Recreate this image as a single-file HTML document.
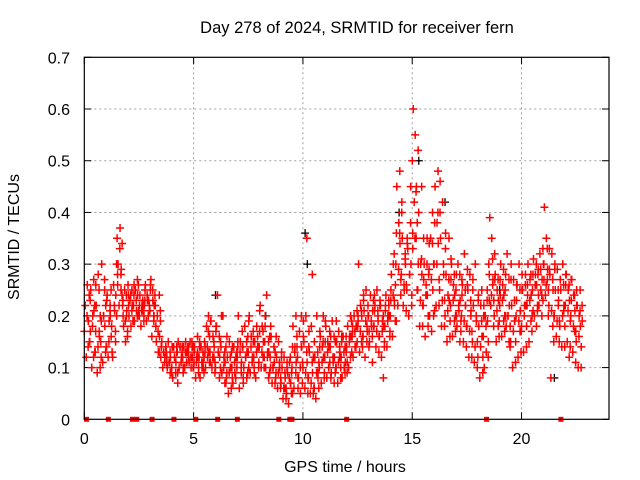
<!DOCTYPE html>
<html><head><meta charset="utf-8"><style>
body{margin:0;background:#fff}
svg{display:block;font-family:"Liberation Sans",sans-serif}
</style></head><body>
<svg id="chart" width="640" height="480" viewBox="0 0 640 480">
<rect x="0" y="0" width="640" height="480" fill="#fff"/>
<text x="357" y="33" font-size="16.5" text-anchor="middle">Day 278 of 2024, SRMTID for receiver fern</text>
<text x="345" y="472" font-size="16" text-anchor="middle">GPS time / hours</text>
<text transform="translate(19,237) rotate(-90)" font-size="16" text-anchor="middle">SRMTID / TECUs</text>
<g id="grid"></g>
<g id="ticks"></g>
<g id="marks"></g>
<rect x="84.3" y="57.3" width="524.7" height="362" fill="none" stroke="#000" stroke-width="1.2"/>
</svg>
<script>
const xTicks=[0,5,10,15,20];
const yTicks=[0,0.1,0.2,0.3,0.4,0.5,0.6,0.7];
const yTickLabels=["0","0.1","0.2","0.3","0.4","0.5","0.6","0.7"];
const rowStartA=0, rowStepA=0.25;
const valsA=[
[0.17,0.22,0.12,0.26,0.19],[0.15,0.25,0.10,0.20,0.27],[0.13,0.22,0.09,0.28,0.17],[0.15,0.30,0.11,0.20,0.25],
[0.14,0.24,0.12,0.19,0.22],[0.18,0.12,0.26,0.21,0.15],[0.35,0.30,0.22,0.37,0.25],[0.22,0.18,0.25,0.15,0.20],
[0.26,0.20,0.23,0.18,0.25],[0.22,0.19,0.25,0.21,0.27],[0.20,0.24,0.18,0.22,0.21],[0.22,0.26,0.19,0.23,0.20],
[0.21,0.27,0.16,0.23,0.19],[0.22,0.15,0.20,0.13,0.24],[0.12,0.15,0.10,0.13,0.11],[0.13,0.10,0.15,0.11,0.09],
[0.10,0.08,0.14,0.12,0.09],[0.13,0.15,0.10,0.14,0.11],[0.12,0.14,0.10,0.15,0.13],[0.13,0.11,0.15,0.10,0.14],
[0.10,0.14,0.08,0.12,0.16],[0.12,0.08,0.14,0.10,0.11],[0.15,0.10,0.18,0.12,0.20],[0.13,0.19,0.10,0.16,0.12],
[0.10,0.18,0.24,0.13,0.08],[0.14,0.09,0.20,0.12,0.07],[0.08,0.12,0.05,0.15,0.10],[0.10,0.07,0.14,0.09,0.12],
[0.12,0.20,0.06,0.15,0.09],[0.14,0.10,0.18,0.12,0.08],[0.13,0.20,0.09,0.16,0.11],[0.12,0.15,0.08,0.18,0.14],
[0.14,0.22,0.10,0.18,0.12],[0.15,0.10,0.24,0.13,0.08],[0.12,0.16,0.07,0.10,0.14],[0.08,0.12,0.06,0.15,0.10],
[0.07,0.10,0.04,0.12,0.06],[0.05,0.09,0.03,0.11,0.07],[0.10,0.18,0.06,0.14,0.20],[0.12,0.08,0.17,0.05,0.20],
[0.10,0.15,0.06,0.20,0.35],[0.08,0.13,0.05,0.18,0.28],[0.06,0.12,0.04,0.20,0.09],[0.10,0.16,0.07,0.14,0.20],
[0.12,0.18,0.08,0.15,0.10],[0.14,0.09,0.19,0.11,0.07],[0.10,0.15,0.07,0.17,0.12],[0.12,0.08,0.16,0.10,0.14],
[0.14,0.18,0.10,0.16,0.20],[0.16,0.12,0.20,0.14,0.18],[0.18,0.30,0.13,0.22,0.15],[0.16,0.21,0.12,0.25,0.18],
[0.20,0.15,0.24,0.18,0.11],[0.18,0.22,0.14,0.25,0.20],[0.16,0.22,0.12,0.19,0.08],[0.18,0.24,0.14,0.20,0.22],
[0.20,0.28,0.16,0.30,0.23],[0.30,0.45,0.22,0.38,0.48],[0.28,0.35,0.22,0.25,0.32],[0.25,0.33,0.20,0.28,0.45],
[0.50,0.60,0.42,0.55,0.35],[0.25,0.40,0.18,0.30,0.45],[0.22,0.30,0.16,0.26,0.35],[0.28,0.20,0.35,0.17,0.40],
[0.30,0.45,0.22,0.38,0.48],[0.25,0.35,0.18,0.42,0.30],[0.20,0.28,0.15,0.24,0.35],[0.22,0.30,0.16,0.26,0.19],
[0.25,0.18,0.30,0.21,0.15],[0.20,0.26,0.15,0.32,0.22],[0.18,0.25,0.12,0.28,0.20],[0.15,0.22,0.11,0.30,0.19],
[0.12,0.18,0.08,0.22,0.25],[0.16,0.10,0.20,0.13,0.25],[0.30,0.39,0.22,0.35,0.26],[0.20,0.28,0.15,0.25,0.18],
[0.22,0.30,0.16,0.26,0.19],[0.25,0.18,0.32,0.20,0.15],[0.15,0.22,0.10,0.27,0.19],[0.20,0.26,0.12,0.30,0.17],
[0.18,0.25,0.13,0.22,0.28],[0.22,0.30,0.15,0.27,0.19],[0.25,0.31,0.20,0.28,0.18],[0.28,0.22,0.32,0.25,0.20],
[0.30,0.41,0.24,0.35,0.27],[0.22,0.28,0.08,0.32,0.18],[0.20,0.25,0.16,0.29,0.22],[0.18,0.25,0.14,0.30,0.21],
[0.22,0.28,0.15,0.25,0.12],[0.20,0.27,0.13,0.24,0.17],[0.15,0.22,0.10,0.20,0.25]];
const rowStartB=0.125, rowStepB=0.25;
const valsB=[
[0.20,0.14,0.24,0.17],[0.18,0.12,0.22,0.26],[0.14,0.25,0.10,0.19],[0.20,0.27,0.13,0.23],
[0.15,0.21,0.25,0.13],[0.22,0.17,0.30,0.26],[0.33,0.28,0.24,0.20],[0.19,0.24,0.16,0.22],
[0.24,0.21,0.19,0.26],[0.23,0.20,0.26,0.22],[0.21,0.23,0.19,0.25],[0.24,0.20,0.22,0.26],
[0.25,0.20,0.22,0.18],[0.17,0.13,0.21,0.14],[0.13,0.11,0.14,0.12],[0.11,0.13,0.09,0.14],
[0.12,0.09,0.14,0.07],[0.14,0.11,0.13,0.09],[0.13,0.11,0.14,0.12],[0.12,0.15,0.10,0.13],
[0.11,0.13,0.09,0.15],[0.11,0.13,0.09,0.14],[0.14,0.17,0.11,0.19],[0.12,0.15,0.09,0.18],
[0.13,0.16,0.10,0.20],[0.10,0.13,0.07,0.16],[0.09,0.12,0.06,0.14],[0.11,0.08,0.13,0.15],
[0.13,0.10,0.17,0.07],[0.12,0.15,0.09,0.19],[0.14,0.11,0.17,0.09],[0.13,0.16,0.10,0.21],
[0.13,0.17,0.10,0.20],[0.12,0.15,0.09,0.18],[0.10,0.14,0.07,0.16],[0.09,0.11,0.06,0.13],
[0.06,0.09,0.04,0.11],[0.08,0.12,0.05,0.14],[0.13,0.09,0.16,0.06],[0.10,0.14,0.07,0.19],
[0.09,0.13,0.05,0.17],[0.07,0.11,0.05,0.15],[0.09,0.13,0.06,0.17],[0.11,0.15,0.08,0.19],
[0.13,0.10,0.17,0.08],[0.12,0.16,0.09,0.19],[0.11,0.14,0.08,0.16],[0.13,0.09,0.16,0.11],
[0.15,0.12,0.19,0.17],[0.17,0.14,0.21,0.19],[0.17,0.21,0.14,0.24],[0.19,0.15,0.22,0.17],
[0.19,0.16,0.23,0.21],[0.17,0.21,0.13,0.23],[0.17,0.20,0.14,0.22],[0.19,0.23,0.16,0.25],
[0.24,0.32,0.19,0.36],[0.29,0.36,0.24,0.42],[0.26,0.31,0.21,0.34],[0.28,0.38,0.22,0.33],
[0.35,0.44,0.25,0.30],[0.23,0.31,0.18,0.27],[0.24,0.30,0.18,0.34],[0.27,0.34,0.20,0.38],
[0.30,0.40,0.22,0.46],[0.23,0.30,0.18,0.36],[0.21,0.27,0.16,0.31],[0.23,0.28,0.17,0.20],
[0.22,0.28,0.17,0.24],[0.19,0.25,0.14,0.29],[0.17,0.23,0.12,0.27],[0.14,0.20,0.10,0.24],
[0.14,0.19,0.09,0.22],[0.18,0.23,0.12,0.28],[0.24,0.31,0.18,0.27],[0.21,0.27,0.16,0.24],
[0.23,0.29,0.17,0.20],[0.20,0.27,0.14,0.30],[0.17,0.23,0.11,0.26],[0.19,0.25,0.13,0.28],
[0.20,0.26,0.14,0.24],[0.23,0.28,0.17,0.21],[0.26,0.30,0.21,0.24],[0.29,0.24,0.33,0.27],
[0.26,0.33,0.20,0.29],[0.21,0.27,0.15,0.30],[0.19,0.25,0.15,0.27],[0.20,0.26,0.14,0.28],
[0.21,0.26,0.14,0.23],[0.18,0.24,0.11,0.22],[0.16,0.21,0.10,0.19]];
const rowStartC=0.19, rowStepC=0.25;
const valsC=[
[0.19,0.15,0.23],[0.21,0.13,0.17],[0.16,0.20,0.12],[0.18,0.22,0.14],
[0.20,0.16,0.13],[0.24,0.20,0.28],[0.29,0.34,0.23],[0.21,0.17,0.24],
[0.22,0.19,0.24],[0.24,0.21,0.20],[0.22,0.20,0.23],[0.23,0.21,0.25],
[0.20,0.24,0.18],[0.16,0.19,0.14],[0.12,0.14,0.11],[0.12,0.10,0.14],
[0.11,0.13,0.09],[0.12,0.14,0.10],[0.11,0.13,0.14],[0.12,0.14,0.11],
[0.12,0.10,0.14],[0.10,0.12,0.13],[0.13,0.16,0.11],[0.14,0.11,0.17],
[0.12,0.15,0.09],[0.11,0.14,0.09],[0.10,0.13,0.08],[0.12,0.10,0.14],
[0.11,0.14,0.08],[0.13,0.16,0.10],[0.12,0.15,0.10],[0.14,0.11,0.17],
[0.15,0.12,0.18],[0.13,0.16,0.10],[0.11,0.13,0.09],[0.10,0.08,0.12],
[0.08,0.06,0.10],[0.07,0.09,0.05],[0.11,0.14,0.08],[0.14,0.11,0.16],
[0.11,0.08,0.14],[0.09,0.12,0.06],[0.08,0.11,0.14],[0.12,0.09,0.15],
[0.14,0.11,0.16],[0.12,0.15,0.10],[0.13,0.10,0.15],[0.11,0.13,0.09],
[0.16,0.13,0.18],[0.18,0.15,0.20],[0.20,0.16,0.23],[0.17,0.20,0.14],
[0.21,0.18,0.24],[0.19,0.16,0.22],[0.18,0.15,0.21],[0.20,0.17,0.23],
[0.22,0.26,0.19],[0.34,0.27,0.40],[0.30,0.26,0.35],[0.30,0.24,0.36],
[0.45,0.38,0.52],[0.28,0.22,0.35],[0.24,0.20,0.29],[0.25,0.30,0.21],
[0.34,0.27,0.40],[0.28,0.23,0.33],[0.23,0.19,0.27],[0.24,0.20,0.28],
[0.23,0.19,0.27],[0.22,0.18,0.26],[0.21,0.17,0.25],[0.19,0.15,0.23],
[0.16,0.12,0.20],[0.19,0.15,0.23],[0.27,0.23,0.32],[0.23,0.19,0.27],
[0.24,0.20,0.28],[0.22,0.18,0.27],[0.19,0.15,0.23],[0.21,0.17,0.25],
[0.22,0.18,0.26],[0.24,0.20,0.28],[0.26,0.22,0.29],[0.27,0.23,0.30],
[0.29,0.25,0.33],[0.25,0.20,0.29],[0.23,0.19,0.27],[0.22,0.18,0.26],
[0.23,0.19,0.27],[0.21,0.17,0.25],[0.18,0.14,0.22]];
const blackTimes=[3.2,6.0,8.3,10.1,10.2,14.4,15.3,16.5,21.5,12.5,19.0];
const blackVals=[0.22,0.24,0.20,0.36,0.30,0.40,0.50,0.42,0.08,0.18,0.25];
const zeroTimes=[0.1,1.1,2.2,2.4,3.1,4.1,5.1,6.1,7.0,8.9,9.4,9.5,12.0,18.4,21.8];

const X0=84.3,X1=609,Y0=419.3,Y1=57.3,XMAX=24,YMAX=0.7;
const sx=t=>X0+(t/XMAX)*(X1-X0);
const sy=v=>Y0-(v/YMAX)*(Y0-Y1);
const NS='http://www.w3.org/2000/svg';
const grid=document.getElementById('grid'),ticks=document.getElementById('ticks'),marks=document.getElementById('marks');
function mk(tag,attrs,parent){const e=document.createElementNS(NS,tag);for(const k in attrs)e.setAttribute(k,attrs[k]);parent.appendChild(e);return e;}
xTicks.forEach(t=>{
  const x=sx(t);
  if(t>0){const g=mk('line',{x1:x,x2:x,y1:Y0,y2:Y1,stroke:'#a0a0a0','stroke-dasharray':'2,3','stroke-width':1},grid);
  
  }
  mk('line',{x1:x,x2:x,y1:Y0,y2:Y0-7,stroke:'#000'},ticks);
  mk('line',{x1:x,x2:x,y1:Y1,y2:Y1+7,stroke:'#000'},ticks);
  const l=mk('text',{x:x,y:444,'font-size':16,'text-anchor':'middle'},ticks);l.textContent=String(t);
  
  
});
yTicks.forEach((v,i)=>{
  const y=sy(v);
  if(v>0&&v<0.7){const g=mk('line',{x1:X0,x2:X1,y1:y,y2:y,stroke:'#a0a0a0','stroke-dasharray':'2,3','stroke-width':1},grid);
  
  }
  mk('line',{x1:X0,x2:X0+7,y1:y,y2:y,stroke:'#000'},ticks);
  mk('line',{x1:X1,x2:X1-7,y1:y,y2:y,stroke:'#000'},ticks);
  const l=mk('text',{x:70,y:y+6,'font-size':16,'text-anchor':'end'},ticks);l.textContent=yTickLabels[i];
  
  
});
let dR='',dK='';
const plus=(x,y)=>`M${x-4} ${y}h8M${x} ${y-4}v8`;
valsA.forEach((row,i)=>row.forEach((v,k)=>{dR+=plus(sx(rowStartA+i*rowStepA+k*0.045),sy(v));}));
valsB.forEach((row,i)=>row.forEach((v,k)=>{dR+=plus(sx(rowStartB+i*rowStepB+k*0.05),sy(v));}));
valsC.forEach((row,i)=>row.forEach((v,k)=>{dR+=plus(sx(rowStartC+i*rowStepC+k*0.04),sy(v));}));
blackTimes.forEach((t,i)=>{dK+=plus(sx(t),sy(blackVals[i]));});
const pk=mk('path',{d:dK,stroke:'#000',fill:'none','stroke-width':1.3},marks);


const pr=mk('path',{d:dR,stroke:'#ff0000',fill:'none','stroke-width':1.5},marks);


zeroTimes.forEach(t=>{const r=mk('rect',{x:sx(t)-2.5,y:Y0-2.5,width:5,height:5,fill:'#ff0000'},marks);

});
</script>
</body></html>
